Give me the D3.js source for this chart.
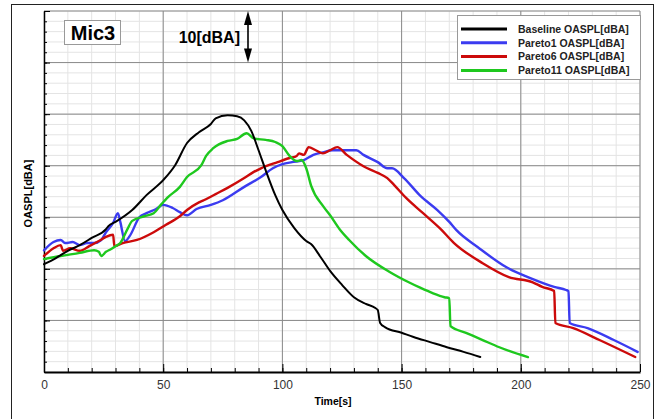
<!DOCTYPE html>
<html>
<head>
<meta charset="utf-8">
<script src="https://cdn.jsdelivr.net/npm/d3@7"></script>
<style>
  body { margin: 0; background: #fff; }
  svg { display: block; font-family: "Liberation Sans", Arial, sans-serif; }
  .grid-minor line { stroke: #e4e4e4; stroke-width: 1; }
  .grid-major line { stroke: #8a8a8a; stroke-width: 1; }
  .axis path, .axis line { stroke: #000; }
  .axis text { font-size: 12px; fill: #333; }
  .curve { fill: none; stroke-linejoin: round; stroke-linecap: round; }
</style>
</head>
<body>
<svg id="chart" width="657" height="419"></svg>
<script>
// time [s] / OASPL [dBA] pairs
const baseline = [
  [0, 50.9], [5, 52.1], [10, 53.5], [15, 54.6], [20, 56.0], [26, 57.7], [27, 58.3],
  [30, 59.1], [37, 61.4], [43, 64.3], [50, 67.2], [55, 70.1], [60, 74.4], [65, 76.5],
  [70, 78.1], [72, 79.2], [77, 79.8], [81, 79.6], [84, 78.8], [87, 76.7], [90, 73.0],
  [93, 69.1], [97, 64.3], [100, 61.4], [105, 57.9], [110, 55.4], [112, 54.8],
  [116, 52.3], [120, 49.6], [125, 46.9], [130, 44.5], [135, 43.2], [139, 42.4],
  [140, 42.0], [141, 39.5], [143, 38.7], [150, 37.6], [155, 36.8], [162, 35.8],
  [169, 34.8], [176, 33.9], [183, 32.9]
];
const pareto1 = [
  [0, 53.6], [4, 55.2], [7, 55.6], [9, 55.0], [12, 55.2], [15, 54.6], [18, 55.0],
  [21, 55.0], [24, 55.6], [26, 57.1], [29, 58.9], [31, 60.8], [32, 59.1], [34, 55.4],
  [36, 56.4], [40, 60.0], [43, 60.8], [47, 61.6], [50, 62.4], [54, 61.8], [57, 61.0],
  [60, 60.4], [64, 61.6], [70, 62.4], [75, 63.3], [84, 65.9], [91, 67.8], [96, 69.5],
  [100, 70.3], [104, 70.7], [109, 71.1], [113, 72.1], [117, 72.6], [121, 73.0],
  [131, 73.0], [134, 72.1], [140, 70.7], [144, 69.5], [146, 69.5], [151, 67.6],
  [158, 64.1], [165, 61.4], [170, 59.1], [173, 57.5], [182, 54.2], [194, 50.3],
  [204, 48.2], [214, 46.5], [219, 45.9], [220, 45.7], [220.5, 39.5], [228, 38.5],
  [239, 36.2], [249, 33.9]
];
const pareto6 = [
  [0, 52.5], [4, 54.0], [7, 54.6], [8, 53.5], [11, 54.0], [15, 53.5], [19, 54.4],
  [23, 55.4], [26, 56.2], [29, 56.6], [29.5, 54.4], [33, 55.0], [39, 55.6], [46, 57.1],
  [51, 58.5], [57, 60.2], [60, 61.4], [65, 62.9], [67, 63.3], [72, 64.5], [77, 65.7],
  [84, 67.6], [88, 68.8], [91, 69.5], [98, 70.7], [103, 71.5], [106, 71.9], [107, 72.4],
  [109, 72.1], [111, 73.6], [114, 73.0], [117, 72.4], [120, 73.0], [123, 73.6],
  [127, 72.1], [134, 69.9], [140, 68.6], [144, 67.6], [147, 66.2], [152, 63.7],
  [159, 60.8], [166, 57.9], [172, 55.0], [184, 51.1], [195, 48.4], [205, 47.4],
  [209, 46.5], [214, 45.7], [214.5, 39.5], [222, 38.5], [233, 36.2], [248, 32.9]
];
const pareto11 = [
  [0, 51.9], [7, 52.5], [15, 53.1], [21, 53.6], [23, 53.3], [24, 52.5], [26, 53.3],
  [28, 53.8], [30, 54.4], [32, 55.0], [35, 57.7], [37, 59.3], [42, 60.2], [46, 60.8],
  [49, 62.4], [52, 63.9], [57, 65.9], [60, 67.8], [66, 70.1], [68, 71.9], [71, 73.4],
  [77, 74.8], [81, 75.2], [85, 76.3], [88, 75.3], [93, 75.0], [97, 74.6], [100, 73.8],
  [103, 71.9], [106, 70.9], [108, 71.1], [110, 69.5], [112, 66.2], [117, 62.2],
  [120, 60.4], [124, 57.7], [128, 55.6], [135, 52.5], [145, 49.4], [153, 47.4],
  [158, 46.3], [163, 45.3], [168, 44.5], [170, 44.3], [170.5, 38.9], [177, 37.6],
  [184, 36.2], [191, 34.8], [203, 32.9]
];

const seriesNames = ['Baseline OASPL[dBA]', 'Pareto1 OASPL[dBA]', 'Pareto6 OASPL[dBA]', 'Pareto11 OASPL[dBA]'];
const seriesColors = ['#000000', '#3b3bf0', '#cc0a0a', '#1ec81e'];
const seriesData = [baseline, pareto1, pareto6, pareto11];
const xTicks = [0, 50, 100, 150, 200, 250];

const svg = d3.select('#chart');
const margin = { top: 11, right: 17, bottom: 47, left: 44 };
const width = 657 - margin.left - margin.right;
const height = 419 - margin.top - margin.bottom;

// outer frame
svg.append('rect')
  .attr('x', 11.5).attr('y', 4.5)
  .attr('width', 642).attr('height', 416)
  .attr('fill', 'none').attr('stroke', '#222').attr('stroke-width', 1);

const g = svg.append('g').attr('transform', `translate(${margin.left},${margin.top})`);

const x = d3.scaleLinear().domain([0, 250]).range([0, width]);
const y = d3.scaleLinear().domain([30, 100]).range([height, 0]);

// grid
g.append('g').attr('class', 'grid-minor')
  .selectAll('line').data(d3.range(0, 251, 10)).join('line')
  .attr('x1', (d) => x(d)).attr('x2', (d) => x(d)).attr('y1', 0).attr('y2', height);
g.append('g').attr('class', 'grid-minor')
  .selectAll('line').data(d3.range(30, 101, 2)).join('line')
  .attr('y1', (d) => y(d)).attr('y2', (d) => y(d)).attr('x1', 0).attr('x2', width);
g.append('g').attr('class', 'grid-major')
  .selectAll('line').data(d3.range(50, 251, 50)).join('line')
  .attr('x1', (d) => x(d)).attr('x2', (d) => x(d)).attr('y1', 0).attr('y2', height);
g.append('g').attr('class', 'grid-major')
  .selectAll('line').data(d3.range(40, 101, 10)).join('line')
  .attr('y1', (d) => y(d)).attr('y2', (d) => y(d)).attr('x1', 0).attr('x2', width);

// axes, ticks pointing inwards
g.append('g').attr('class', 'axis')
  .attr('transform', `translate(0,${height})`)
  .call(d3.axisBottom(x).tickValues(d3.range(0, 251, 10)).tickSize(-4).tickFormat(''))
  .call((a) => a.select('.domain').remove());
g.append('g').attr('class', 'axis')
  .attr('transform', `translate(0,${height})`)
  .call(d3.axisBottom(x).tickValues(xTicks).tickSize(-8).tickPadding(8).tickSizeOuter(0))
  .call((a) => a.select('.domain').attr('stroke-width', 2));
g.append('g').attr('class', 'axis')
  .call(d3.axisLeft(y).tickValues(d3.range(30, 101, 2)).tickSize(-3).tickFormat(''))
  .call((a) => a.select('.domain').remove());
g.append('g').attr('class', 'axis')
  .call(d3.axisLeft(y).tickValues(d3.range(30, 101, 10)).tickSize(-6).tickFormat('').tickSizeOuter(0))
  .call((a) => a.select('.domain').attr('stroke-width', 1.5));

// curves
const line = d3.line().x((d) => x(d[0])).y((d) => y(d[1])).curve(d3.curveMonotoneX);
[1, 2, 3, 0].forEach((i) => {
  g.append('path')
    .attr('class', 'curve')
    .attr('d', line(seriesData[i]))
    .attr('stroke', seriesColors[i])
    .attr('stroke-width', i === 0 ? 2 : 2.4);
});

// axis titles
svg.append('text')
  .attr('x', 333).attr('y', 405)
  .attr('text-anchor', 'middle')
  .style('font-size', '10.5px').style('font-weight', 'bold')
  .text('Time[s]');
svg.append('text')
  .attr('transform', `translate(32,${margin.top + height / 2 + 2}) rotate(-90)`)
  .attr('text-anchor', 'middle')
  .style('font-size', '11px').style('font-weight', 'bold')
  .text('OASPL[dBA]');

// Mic3 label box
svg.append('rect')
  .attr('x', 64.5).attr('y', 20.5).attr('width', 56).attr('height', 24)
  .attr('fill', '#fff').attr('stroke', '#999');
svg.append('text')
  .attr('x', 93).attr('y', 40)
  .attr('text-anchor', 'middle')
  .style('font-size', '20px').style('font-weight', 'bold')
  .text('Mic3');

// 10 dBA scale arrow
svg.append('text')
  .attr('x', 240).attr('y', 43)
  .attr('text-anchor', 'end')
  .style('font-size', '16px').style('font-weight', 'bold')
  .text('10[dBA]');
const ax = 248;
const yTop = margin.top + y(100);
const yBot = margin.top + y(90);
svg.append('line')
  .attr('x1', ax).attr('x2', ax).attr('y1', yTop + 6).attr('y2', yBot - 6)
  .attr('stroke', '#000').attr('stroke-width', 1.6);
svg.append('path')
  .attr('d', `M${ax},${yTop} L${ax - 4},${yTop + 14} L${ax + 4},${yTop + 14} Z`)
  .attr('fill', '#000');
svg.append('path')
  .attr('d', `M${ax},${yBot} L${ax - 4},${yBot - 14} L${ax + 4},${yBot - 14} Z`)
  .attr('fill', '#000');

// legend
const lg = svg.append('g').attr('transform', 'translate(457,15)');
lg.append('rect')
  .attr('x', 0.5).attr('y', 0.5).attr('width', 183).attr('height', 64)
  .attr('fill', '#fff').attr('stroke', '#999');
seriesNames.forEach((name, i) => {
  const ly = 14 + i * 13.8;
  lg.append('line')
    .attr('x1', 4).attr('x2', 50).attr('y1', ly).attr('y2', ly)
    .attr('stroke', seriesColors[i]).attr('stroke-width', 3);
  lg.append('text')
    .attr('x', 61).attr('y', ly + 3.8)
    .style('font-size', '10.5px').style('font-weight', 'bold').style('fill', '#222')
    .text(name);
});
</script>
</body>
</html>
